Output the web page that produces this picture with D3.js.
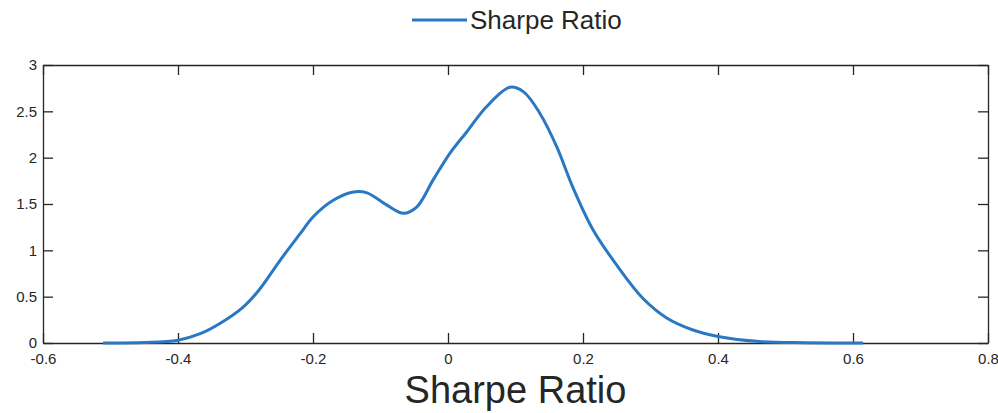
<!DOCTYPE html>
<html>
<head>
<meta charset="utf-8">
<script src="https://cdn.jsdelivr.net/npm/d3@7"></script>
<style>
  html, body { margin: 0; padding: 0; background: #fff; }
  svg { display: block; }
  text { font-family: "Liberation Sans", Arial, Helvetica, sans-serif; fill: #262626; }
</style>
</head>
<body>
<svg id="chart" width="998" height="413"></svg>
<script>
// Kernel density estimate of the Sharpe ratio
const sharpe = [-0.511, -0.45, -0.4, -0.367, -0.338, -0.303, -0.279, -0.249, -0.219, -0.2,
                -0.17, -0.14, -0.12, -0.091, -0.066, -0.046, -0.022, 0.003, 0.028, 0.057,
                0.092, 0.112, 0.136, 0.161, 0.185, 0.215, 0.255, 0.289, 0.324, 0.363,
                0.4, 0.462, 0.53, 0.615];
const density = [0.0, 0.005, 0.03, 0.10, 0.21, 0.39, 0.58, 0.89, 1.18, 1.36,
                 1.54, 1.63, 1.62, 1.49, 1.40, 1.47, 1.76, 2.05, 2.28, 2.55,
                 2.76, 2.71, 2.48, 2.12, 1.68, 1.22, 0.79, 0.48, 0.27, 0.14,
                 0.07, 0.015, 0.003, 0.0];
const xTicks = [-0.6, -0.4, -0.2, 0, 0.2, 0.4, 0.6, 0.8];
const yTicks = [0, 0.5, 1, 1.5, 2, 2.5, 3];
const seriesName = "Sharpe Ratio";
const xLabel = "Sharpe Ratio";

const svg = d3.select("#chart");
const box = { left: 43, right: 988, top: 65, bottom: 343 };
const lineColor = "#2878c3";
const axisColor = "#262626";

const x = d3.scaleLinear().domain([-0.6, 0.8]).range([box.left, box.right]);
const y = d3.scaleLinear().domain([0, 3]).range([box.bottom, box.top]);

const tickLen = 10;
const fmt = d => String(d);

// Axes with inward ticks on all four sides
const axisBottomG = svg.append("g").attr("transform", `translate(0,${box.bottom})`)
  .call(d3.axisBottom(x).tickValues(xTicks).tickFormat(fmt).tickSizeInner(-tickLen).tickSizeOuter(0).tickPadding(10));
const axisTopG = svg.append("g").attr("transform", `translate(0,${box.top})`)
  .call(d3.axisTop(x).tickValues(xTicks).tickFormat("").tickSizeInner(-tickLen).tickSizeOuter(0));
const axisLeftG = svg.append("g").attr("transform", `translate(${box.left},0)`)
  .call(d3.axisLeft(y).tickValues(yTicks).tickFormat(fmt).tickSizeInner(-tickLen).tickSizeOuter(0).tickPadding(6));
const axisRightG = svg.append("g").attr("transform", `translate(${box.right},0)`)
  .call(d3.axisRight(y).tickValues(yTicks).tickFormat("").tickSizeInner(-tickLen).tickSizeOuter(0));

[axisBottomG, axisTopG, axisLeftG, axisRightG].forEach(g => {
  g.select(".domain").attr("stroke", axisColor).attr("stroke-width", 1.3);
  g.selectAll(".tick line").attr("stroke", axisColor).attr("stroke-width", 1.3);
  g.selectAll(".tick text").attr("fill", axisColor).style("font-size", "15px").attr("font-family", null);
});
axisBottomG.selectAll(".tick text").attr("dy", "0.71em");

// Density curve
const line = d3.line()
  .x((d, i) => x(sharpe[i]))
  .y(d => y(d))
  .curve(d3.curveCatmullRom.alpha(0.5));

svg.append("path")
  .datum(density)
  .attr("d", line)
  .attr("fill", "none")
  .attr("stroke", lineColor)
  .attr("stroke-width", 3)
  .attr("stroke-linejoin", "round");

// Axis title
svg.append("text")
  .attr("x", (box.left + box.right) / 2)
  .attr("y", 403)
  .attr("text-anchor", "middle")
  .style("font-size", "38px")
  .text(xLabel);

// Legend
const legend = svg.append("g");
legend.append("line")
  .attr("x1", 412).attr("x2", 467).attr("y1", 20).attr("y2", 20)
  .attr("stroke", lineColor).attr("stroke-width", 3);
legend.append("text")
  .attr("x", 470).attr("y", 29)
  .style("font-size", "26px")
  .text(seriesName);
</script>
</body>
</html>
